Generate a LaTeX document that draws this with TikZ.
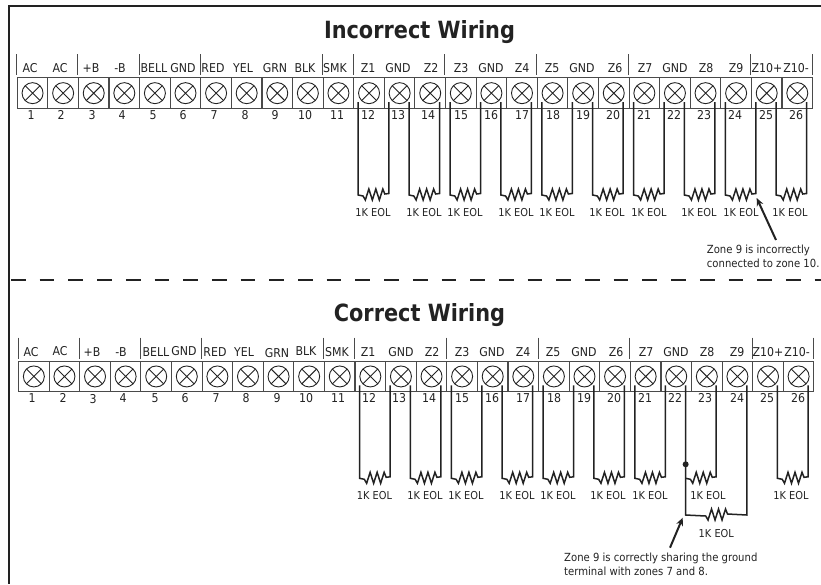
\documentclass[tikz,border=0pt]{standalone}
\usepackage{fontspec}
\setmainfont[FakeStretch=0.9]{DejaVu Sans}
\newfontfamily\titlefont{DejaVu Sans Bold}[FakeStretch=0.88]
\usetikzlibrary{calc,arrows.meta}
\definecolor{ink}{HTML}{222222}
\definecolor{cellgray}{HTML}{4A4A4A}
\tikzset{
  cellbox/.style={draw=cellgray,line width=1.1pt,minimum width=30.6pt,minimum height=30.6pt,inner sep=0pt,anchor=north west},
  terminal/.style={circle,draw=ink,line width=0.9pt,minimum size=21pt,inner sep=0pt,
    path picture={\draw[ink,line width=0.9pt] (path picture bounding box.north west)--(path picture bounding box.south east)
      (path picture bounding box.north east)--(path picture bounding box.south west);}},
  tick/.style={draw=cellgray,line width=1pt},
  lab/.style={font=\fontsize{12.2}{13}\selectfont,text=ink,inner sep=0pt,text height=8.9pt,text depth=0pt},
  eol/.style={font=\fontsize{10.9}{12}\selectfont,text=ink,inner sep=0pt,text height=8pt,text depth=0pt},
  note/.style={font=\fontsize{11.2}{14}\selectfont,text=ink,inner sep=0pt,align=left,anchor=north west},
  heading/.style={font=\fontsize{23.7}{26}\titlefont,text=ink,inner sep=0pt,anchor=base},
  wire/.style={draw=ink,line width=1.5pt,line join=miter},
  frameline/.style={draw=ink,line width=2pt},
  callout/.style={draw=ink,line width=2pt,-{Stealth[length=8pt,width=7pt]}}
}
% zigzag of a resistor, relative to the current point
\newcommand{\zig}{-- ++(2.3,4) -- ++(3.5,-11) -- ++(3.5,11) -- ++(3.5,-11) -- ++(3.5,11) -- ++(3.5,-11) -- ++(2,5)}
% \strip{prefix}{x0}{y0}: terminal block with 26 cells
\newcommand{\strip}[3]{%
  \foreach \i in {1,...,26}{%
    \node[cellbox] (#1c\i) at ({#2+(\i-1)*30.59},#3) {};
    \node[terminal] (#1t\i) at (#1c\i.center) {};
    \coordinate (#1t\i l) at ($(#1t\i.center)+(-10.8,9)$);
    \coordinate (#1t\i r) at ($(#1t\i.center)+(9.4,9)$);
  }%
  \foreach \k in {0,2,4,6,10,11,14,17,20,24,26}{%
    \draw[tick] ({#2+\k*30.59},{#3-23}) -- ({#2+\k*30.59},{#3-2});
  }%
}
% \zone{a}{b}{y}: wire from a down to a resistor at height y and up to b
\newcommand{\zone}[3]{%
  \coordinate (ma) at (#1 |- 0,#3);
  \coordinate (mb) at (#2 |- 0,#3);
  \coordinate (mm) at ($(ma)!.5!(mb)$);
  \draw[wire] (#1) -- (ma) -- ($(mm)+(-10.5,1)$) \zig -- (#2 |- 0,{#3-1.5}) -- (#2);
}
\begin{document}
\begin{tikzpicture}[x=1pt,y=-1pt]
\useasboundingbox (0,0) rectangle (821,584);
% frame
\draw[frameline] (821,5.5) -- (8.5,5.5) -- (8.5,584);
\draw[frameline,dash pattern=on 14.7pt off 14pt] (11,280) -- (821,280);
\node[heading] (title1) at (419.5,38.3) {Incorrect Wiring};
\node[heading] (title2) at (419.5,321) {Correct Wiring};
% blocks
\strip{a}{16.7}{77.3}
\strip{b}{18}{360.6}
% top labels
\foreach \x/\t [count=\i] in {30/AC,60/AC,91/+B,120/-B,154/BELL,183/GND,213/RED,243/YEL,275/GRN,305/BLK,335/SMK,368/Z1,398/GND,431/Z2,461/Z3,491/GND,522/Z4,552/Z5,582/GND,615/Z6,645/Z7,675/GND,706/Z8,736/Z9,767/Z10+,796/Z10-}{
  \node[lab] (al\i) at (\x,68.5) {\t};
}
\foreach \x [count=\i] in {31,61,92,122,153,183,214,245,275,305,337,368,398,428,461,491,522,553,583,613,644,674,704,735,766,796}{
  \node[lab] (an\i) at (\x,115.5) {\i};
}
% bottom labels
\foreach \x/\y/\t [count=\i] in {31/352.3/AC,60/351/AC,92/352/+B,121/352/-B,156/352/BELL,184/351/GND,215/352/RED,244/352/YEL,277/352.7/GRN,306/351/BLK,337/352/SMK,368/352/Z1,401/352/GND,432/352/Z2,462/352/Z3,492/352/GND,523/351.7/Z4,553/352.3/Z5,584/352.3/GND,616/351.7/Z6,646/351.7/Z7,676/351.7/GND,707/351.7/Z8,737/351.7/Z9,768/351.7/Z10+,797/351.7/Z10-}{
  \node[lab] (bl\i) at (\x,\y) {\t};
}
\foreach \x/\y [count=\i] in {32/398.5,63/398,93/399,123/398,155/398,185/398,216/398,246/398,277/398,306/398,338/398,369/398,399/398,429/398,462/398,492/398,523/398,554/398,584/398,614/398,645/398,675/398,705/398,737/398,767/398,798/398}{
  \node[lab] (bn\i) at (\x,\y) {\i};
}
% top wiring
\foreach \p/\q/\x in {at12l/at13l/373,at13r/at14r/424,at15l/at16l/465,at16r/at17r/516,at18l/at19l/557,at19r/at20r/607,at21l/at22l/649,at22r/at23r/699,at24l/at25l/741,at25r/at26r/790}{
  \zone{\p}{\q}{195}
  \node[eol] at (\x,212.7) {1K EOL};
}
% bottom wiring
\foreach \p/\q/\x in {bt12l/bt13l/374.5,bt13r/bt14r/425,bt15l/bt16l/466,bt16r/bt17r/517,bt18l/bt19l/558,bt19r/bt20r/608,bt21l/bt22l/650,bt25r/bt26r/791}{
  \zone{\p}{\q}{478.3}
  \node[eol] at (\x,495.7) {1K EOL};
}
% shared ground
\coordinate (jn) at (bt22r |- 0,464.3);
\coordinate (lowl) at (bt22r |- 0,515);
\coordinate (lowr) at (bt24r |- 0,515);
\coordinate (lowm) at ($(lowl)!.5!(lowr)$);
\draw[wire] (bt22r) -- (lowl) -- ($(lowm)+(-10.5,1)$) \zig -- (lowr) -- (bt24r);
\coordinate (upl) at (bt22r |- 0,478.3);
\coordinate (upr) at (bt23r |- 0,478.3);
\coordinate (upm) at ($(upl)!.5!(upr)$);
\draw[wire] (upl) -- ($(upm)+(-10.5,1)$) \zig -- (bt23r |- 0,476.8) -- (bt23r);
\fill[ink] (jn) circle (3);
\node[eol] (e1) at (708,495.7) {1K EOL};
\node[eol] (e2) at (716.3,533.7) {1K EOL};
% notes
\node[note] (n1) at (706.7,245) {Zone 9 is incorrectly\\connected to zone 10.};
\node[note] (n2) at (564,552.7) {Zone 9 is correctly sharing the ground\\terminal with zones 7 and 8.};
\coordinate (n1s) at (776,240);
\coordinate (n1e) at (756.7,198);
\coordinate (n2s) at (670,547.7);
\coordinate (n2e) at (682.7,517.7);
\draw[callout] (n1s) -- (n1e);
\draw[callout] (n2s) -- (n2e);
\end{tikzpicture}
\end{document}
